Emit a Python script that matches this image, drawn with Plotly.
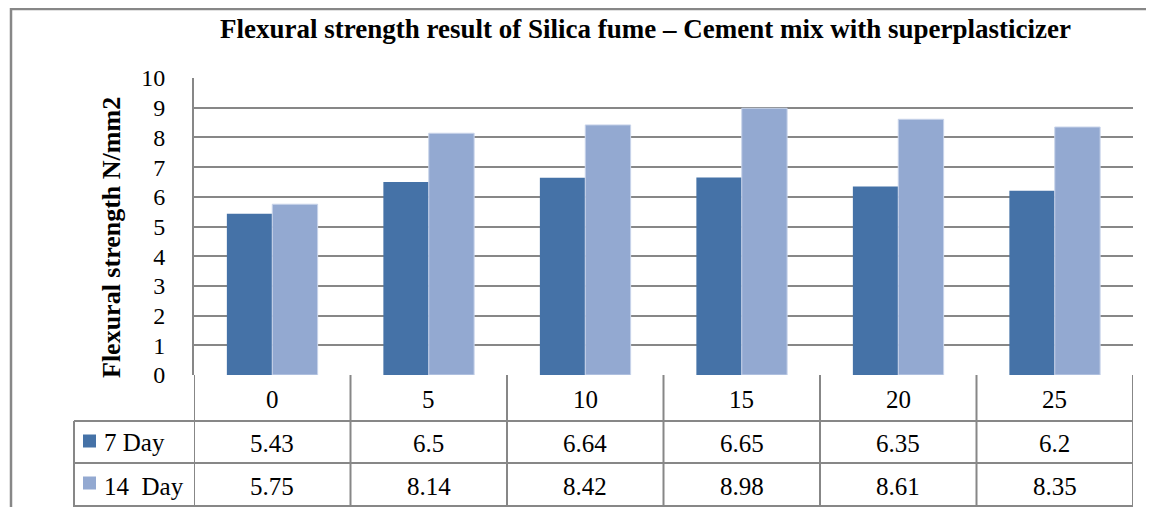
import plotly.graph_objects as go

categories = ["0", "5", "10", "15", "20", "25"]
day7 = [5.43, 6.5, 6.64, 6.65, 6.35, 6.2]
day14 = [5.75, 8.14, 8.42, 8.98, 8.61, 8.35]
series_names = ["7 Day", "14  Day"]
title_text = "Flexural strength result of Silica fume \u2013 Cement mix with superplasticizer"
ytitle = "Flexural strength N/mm2"

c_dark = "#4572A7"
c_light = "#93A9D1"
grid = "#878787"
FONT = "Liberation Serif"

OFF = 8  # page body margin
W, H = 1154 - OFF, 507 - OFF
L, R, T, B = 194 - OFF, 1133 - OFF, 78 - OFF, 375 - OFF
pw, ph = R - L, B - T

def px(x):
    return (x - OFF - L) / pw

def py(y):
    return (B - (y - OFF)) / ph

fig = go.Figure()
xs = list(range(len(categories)))
fig.add_trace(go.Bar(x=xs, y=day7, name=series_names[0], marker=dict(color=c_dark, line=dict(width=0))))
fig.add_trace(go.Bar(x=xs, y=day14, name=series_names[1], marker=dict(color=c_light, line=dict(color="#c9d4ea", width=1))))

shapes = []
line = dict(color=grid, width=2)
shapes.append(dict(type="rect", xref="paper", yref="paper", x0=px(11), x1=px(1170), y0=py(9), y1=py(520), line=dict(color=grid, width=2.5)))
for yy in [421, 463, 506]:
    shapes.append(dict(type="line", xref="paper", yref="paper", x0=px(74), x1=1, y0=py(yy), y1=py(yy), line=line))
shapes.append(dict(type="line", xref="paper", yref="paper", x0=px(74), x1=px(74), y0=py(421), y1=py(510), line=line))
n = len(categories)
for i in range(n + 1):
    xv = i - 0.5
    shapes.append(dict(type="line", xref="x", yref="paper", x0=xv, x1=xv, y0=0, y1=py(510), line=line))
for yy, col in [(441, c_dark), (483, c_light)]:
    shapes.append(dict(type="rect", xref="paper", yref="paper", x0=px(83), x1=px(96), y0=py(yy - 6.5), y1=py(yy + 6.5), fillcolor=col, line=dict(width=0)))

def A(x, y, text, size, xref="paper", xanchor="center", angle=0):
    return dict(x=x, y=y, xref=xref, yref="paper", text=text, showarrow=False, xanchor=xanchor, yanchor="middle",
                textangle=angle, font=dict(family=FONT, size=size, color="#000"))

ann = []
for i, c in enumerate(categories):
    ann.append(A(i, py(399), c, 25, xref="x"))
    ann.append(A(i, py(443), str(day7[i]), 25, xref="x"))
    ann.append(A(i, py(486), str(day14[i]), 25, xref="x"))
ann.append(A(px(102), py(442), series_names[0], 25, xanchor="left"))
ann.append(A(px(102), py(486), series_names[1].replace("  ", "&nbsp; "), 25, xanchor="left"))
ann.append(A(px(645), py(29), "<b>" + title_text + "</b>", 27))
ann.append(A(px(111), py(238), "<b>" + ytitle + "</b>", 26, angle=-90))

fig.update_layout(
    width=W, height=H,
    margin=dict(l=L, r=W - R, t=T, b=H - B, pad=0),
    paper_bgcolor="white", plot_bgcolor="white",
    barmode="group", bargap=0.42, bargroupgap=0,
    showlegend=False,
    shapes=shapes, annotations=ann,
    xaxis=dict(range=[-0.5, n - 0.5], showticklabels=False, showgrid=False, zeroline=False, showline=False, ticks=""),
    yaxis=dict(range=[0, 10], dtick=1, showgrid=True, gridcolor=grid, gridwidth=2, zeroline=False,
               showline=True, linecolor=grid, linewidth=2, ticks="", ticklabelstandoff=22,
               tickfont=dict(family=FONT, size=24, color="#000")),
)
fig.write_html("out.html")
